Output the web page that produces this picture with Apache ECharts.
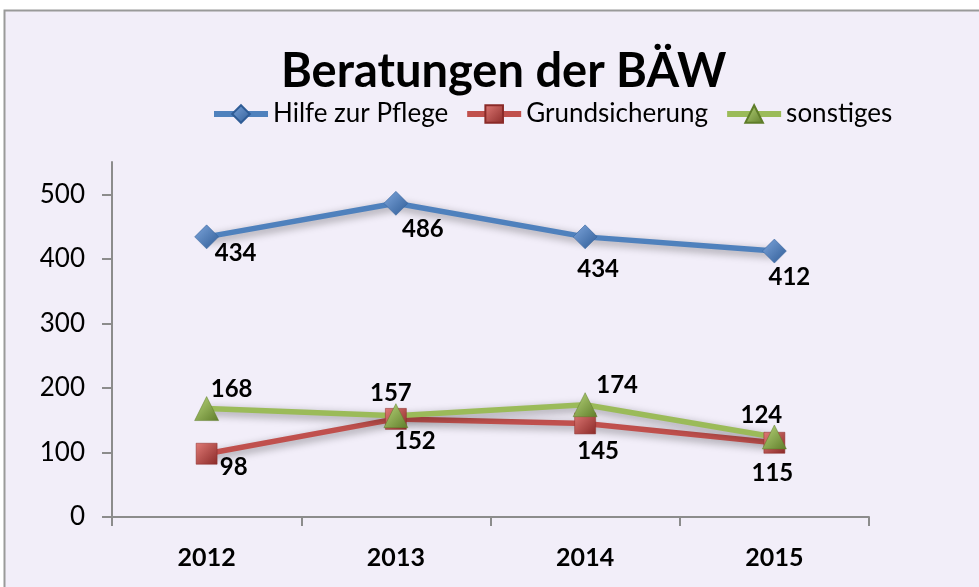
<!DOCTYPE html>
<html>
<head>
<meta charset="utf-8">
<script src="https://cdn.jsdelivr.net/npm/echarts@6/dist/echarts.min.js"></script>
<style>
  html, body { margin: 0; padding: 0; background: #ffffff; }
  #chart { width: 979px; height: 587px; }
</style>
</head>
<body>
<div id="chart"></div>
<script>
// Daten aus der Grafik
const years = ['2012', '2013', '2014', '2015']
const hilfeZurPflege = [434, 486, 434, 412]
const grundsicherung = [98, 152, 145, 115]
const sonstiges = [168, 157, 174, 124]
const yTicks = [0, 100, 200, 300, 400, 500]

// Versatz der Wertbeschriftungen relativ zum Punkt
const hilfeOffsets = [[29, 16], [27, 26], [13, 32], [15, 26]]
const grundOffsets = [[27, 14], [19, 22], [13, 28], [-2, 30]]
const sonstOffsets = [[25, -19], [-5, -22], [32, -19], [-13, -22]]

const FONT = 'Lato, "Open Sans", sans-serif'

const withLabels = (values, offsets) => values.map((v, i) => ({
  value: v,
  label: { offset: offsets[i] }
}))

const labelStyle = {
  show: true,
  position: 'inside',
  fontFamily: FONT,
  fontSize: 24,
  fontWeight: 'bold',
  color: '#000'
}

const shadow = {
  shadowColor: 'rgba(0, 0, 0, 0.4)',
  shadowBlur: 9,
  shadowOffsetX: 1,
  shadowOffsetY: 3
}

// leichter 3D-Effekt für die Marker
const shade = (light, dark) => new echarts.graphic.LinearGradient(0, 0, 1, 1, [
  { offset: 0, color: light },
  { offset: 1, color: dark }
])

const makeSeries = (name, values, offsets, color, light, dark, symbol, size) => ({
  name,
  type: 'line',
  data: withLabels(values, offsets),
  symbol,
  symbolSize: size,
  lineStyle: { color, width: 5.5, ...shadow },
  itemStyle: { color: shade(light, dark), borderColor: dark, borderWidth: 0.5 },
  label: labelStyle,
  z: 3
})

const chart = echarts.init(document.getElementById('chart'))

const option = {
  animation: false,
  backgroundColor: '#ffffff',
  graphic: [
    {
      type: 'rect',
      shape: { x: 4.5, y: 10.5, width: 990, height: 600 },
      style: { fill: '#f2eef9', stroke: '#9a9a9a', lineWidth: 2 },
      z: -10
    }
  ],
  title: {
    text: 'Beratungen der BÄW',
    left: 276,
    top: 43,
    textStyle: {
      fontFamily: FONT,
      fontSize: 47,
      fontWeight: 'bold',
      color: '#000'
    }
  },
  legend: {
    left: 206,
    top: 96,
    itemWidth: 54,
    itemHeight: 22,
    itemGap: 16,
    lineStyle: { width: 6, shadowBlur: 0, shadowOffsetX: 0, shadowOffsetY: 0 },
    textStyle: { fontFamily: FONT, fontSize: 26, color: '#000', padding: [0, 0, 0, 0] },
    data: ['Hilfe zur Pflege', 'Grundsicherung', 'sonstiges']
  },
  grid: { left: 112, right: 110, top: 162, bottom: 70 },
  xAxis: {
    type: 'category',
    data: years,
    boundaryGap: true,
    axisLine: { lineStyle: { color: '#8c8c8c', width: 2 } },
    axisTick: { show: true, length: 9, lineStyle: { color: '#8c8c8c', width: 2 } },
    axisLabel: {
      fontFamily: FONT,
      fontSize: 25,
      fontWeight: 'bold',
      color: '#000',
      margin: 28
    },
    splitLine: { show: false }
  },
  yAxis: {
    type: 'value',
    min: 0,
    max: 550,
    interval: 100,
    axisLine: { show: true, lineStyle: { color: '#8c8c8c', width: 2 } },
    axisTick: { show: true, length: 10, inside: false, customValues: yTicks, lineStyle: { color: '#8c8c8c', width: 2 } },
    axisLabel: {
      fontFamily: FONT,
      fontSize: 26,
      color: '#000',
      margin: 27,
      customValues: yTicks
    },
    splitLine: { show: false }
  },
  series: [
    makeSeries('Hilfe zur Pflege', hilfeZurPflege, hilfeOffsets, '#4f81bd', '#7ea6dc', '#2f5c96', 'diamond', 24),
    makeSeries('Grundsicherung', grundsicherung, grundOffsets, '#c0504d', '#e07a76', '#8a2a28', 'rect', 21),
    makeSeries('sonstiges', sonstiges, sonstOffsets, '#9bbb59', '#b9d67c', '#5f7d2a', 'triangle', 24)
  ]
}

chart.setOption(option)
</script>
</body>
</html>
